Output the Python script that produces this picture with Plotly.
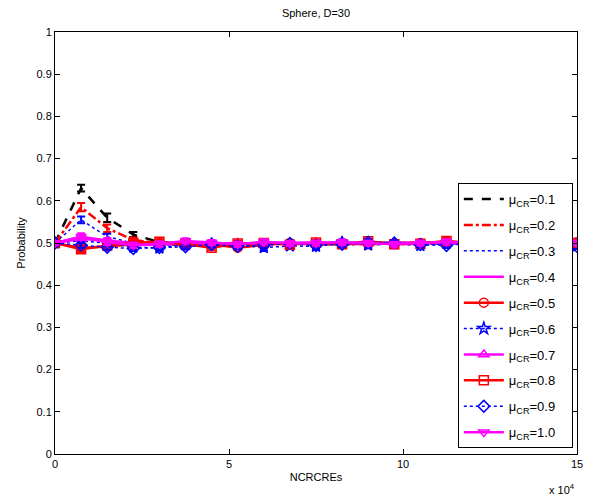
import plotly.graph_objects as go

x_vals = [i * 7500 for i in range(21)]

labels = ["0.1", "0.2", "0.3", "0.4", "0.5", "0.6", "0.7", "0.8", "0.9", "1.0"]

y01 = [0.500, 0.630, 0.560, 0.520, 0.502, 0.497, 0.500, 0.496, 0.500, 0.499, 0.500, 0.497, 0.500, 0.501, 0.499, 0.500, 0.500, 0.500, 0.500, 0.500, 0.498]
y02 = [0.500, 0.585, 0.535, 0.507, 0.500, 0.495, 0.498, 0.497, 0.499, 0.500, 0.498, 0.500, 0.500, 0.499, 0.500, 0.501, 0.500, 0.500, 0.500, 0.500, 0.502]
y03 = [0.500, 0.555, 0.515, 0.500, 0.497, 0.493, 0.499, 0.495, 0.500, 0.497, 0.499, 0.494, 0.499, 0.500, 0.498, 0.497, 0.500, 0.500, 0.500, 0.500, 0.495]
y04 = [0.500, 0.515, 0.506, 0.500, 0.499, 0.502, 0.500, 0.498, 0.501, 0.500, 0.500, 0.502, 0.499, 0.500, 0.501, 0.500, 0.500, 0.500, 0.500, 0.500, 0.500]
y05 = [0.500, 0.488, 0.492, 0.497, 0.500, 0.494, 0.497, 0.489, 0.495, 0.500, 0.496, 0.498, 0.497, 0.499, 0.500, 0.503, 0.500, 0.500, 0.500, 0.500, 0.502]
y06 = [0.500, 0.505, 0.500, 0.490, 0.488, 0.497, 0.498, 0.496, 0.489, 0.493, 0.492, 0.502, 0.495, 0.498, 0.494, 0.500, 0.500, 0.500, 0.500, 0.500, 0.493]
y07 = [0.500, 0.510, 0.505, 0.495, 0.496, 0.500, 0.499, 0.500, 0.497, 0.500, 0.501, 0.498, 0.500, 0.500, 0.499, 0.500, 0.500, 0.500, 0.500, 0.500, 0.500]
y08 = [0.500, 0.485, 0.494, 0.500, 0.503, 0.497, 0.489, 0.499, 0.500, 0.496, 0.501, 0.497, 0.504, 0.497, 0.498, 0.505, 0.500, 0.500, 0.500, 0.500, 0.500]
y09 = [0.500, 0.495, 0.490, 0.487, 0.489, 0.491, 0.496, 0.492, 0.495, 0.499, 0.494, 0.497, 0.502, 0.500, 0.496, 0.494, 0.500, 0.500, 0.500, 0.500, 0.492]
y10 = [0.500, 0.515, 0.502, 0.495, 0.498, 0.505, 0.501, 0.497, 0.503, 0.499, 0.500, 0.502, 0.500, 0.497, 0.500, 0.503, 0.500, 0.500, 0.500, 0.500, 0.500]

e01 = [0.003, 0.008, 0.010, 0.006, 0.004, 0.004, 0.004, 0.004, 0.004, 0.004, 0.004, 0.004, 0.004, 0.004, 0.004, 0.004, 0.004, 0.004, 0.004, 0.004, 0.004]
e02 = [0.003, 0.010, 0.009, 0.006, 0.004, 0.004, 0.004, 0.004, 0.004, 0.004, 0.004, 0.004, 0.004, 0.004, 0.004, 0.004, 0.004, 0.004, 0.004, 0.004, 0.004]
e03 = [0.003, 0.008, 0.007, 0.005, 0.005, 0.006, 0.005, 0.006, 0.005, 0.005, 0.005, 0.005, 0.005, 0.005, 0.005, 0.005, 0.005, 0.005, 0.005, 0.005, 0.006]
e04 = [0.003, 0.006, 0.005, 0.005, 0.004, 0.004, 0.004, 0.004, 0.004, 0.004, 0.004, 0.004, 0.004, 0.004, 0.004, 0.004, 0.004, 0.004, 0.004, 0.004, 0.004]
e05 = [0.003, 0.006, 0.006, 0.005, 0.005, 0.005, 0.005, 0.005, 0.005, 0.005, 0.005, 0.005, 0.005, 0.005, 0.005, 0.005, 0.005, 0.005, 0.005, 0.005, 0.005]
e06 = [0.003, 0.006, 0.006, 0.006, 0.006, 0.006, 0.006, 0.006, 0.006, 0.006, 0.006, 0.006, 0.006, 0.006, 0.006, 0.006, 0.006, 0.006, 0.006, 0.006, 0.006]
e07 = [0.003, 0.006, 0.006, 0.005, 0.005, 0.005, 0.005, 0.005, 0.005, 0.005, 0.005, 0.005, 0.005, 0.005, 0.005, 0.005, 0.005, 0.005, 0.005, 0.005, 0.005]
e08 = [0.003, 0.007, 0.006, 0.006, 0.006, 0.006, 0.006, 0.006, 0.006, 0.006, 0.006, 0.006, 0.006, 0.006, 0.006, 0.006, 0.006, 0.006, 0.006, 0.006, 0.006]
e09 = [0.003, 0.006, 0.006, 0.006, 0.006, 0.006, 0.006, 0.006, 0.006, 0.006, 0.006, 0.006, 0.006, 0.006, 0.006, 0.006, 0.006, 0.006, 0.006, 0.006, 0.006]
e10 = [0.003, 0.008, 0.007, 0.006, 0.006, 0.006, 0.006, 0.006, 0.006, 0.006, 0.006, 0.006, 0.006, 0.006, 0.006, 0.006, 0.006, 0.006, 0.006, 0.006, 0.006]

series_y = [y01, y02, y03, y04, y05, y06, y07, y08, y09, y10]
series_e = [e01, e02, e03, e04, e05, e06, e07, e08, e09, e10]

colors = ["black", "red", "blue", "magenta", "red", "blue", "magenta", "red", "blue", "magenta"]
dashes = ["dash", "dashdot", "dot", "solid", "solid", "dot", "solid", "solid", "dot", "solid"]
symbols = [None, None, None, None, "circle-open", "star-open", "triangle-up-open", "square-open", "diamond-open", "triangle-down-open"]

fig = go.Figure()
for lab, ys, es, c, d, s in zip(labels, series_y, series_e, colors, dashes, symbols):
    mode = "lines+markers" if s else "lines"
    marker = dict(symbol=s, size=9, color=c, line=dict(width=1.5, color=c)) if s else None
    fig.add_trace(go.Scatter(
        x=x_vals, y=ys, mode=mode,
        name="μ<sub>CR</sub>=" + lab + "\u00a0\u00a0\u00a0",
        legendgroup="g" + lab,
        line=dict(color=c, dash=d, width=2.5 if d != "dot" else 1.5),
        marker=marker,
        error_y=dict(type="data", array=es, visible=True, color=c, thickness=2, width=4),
    ))

axis_common = dict(showline=True, linecolor="black", linewidth=1, mirror="ticks",
                   ticks="inside", ticklen=5, tickcolor="black", showgrid=False,
                   zeroline=False, tickfont=dict(family="Liberation Sans, Arial", size=11, color="black"))

fig.update_layout(
    width=595, height=497,
    margin=dict(l=55, r=18, t=32, b=43),
    paper_bgcolor="white", plot_bgcolor="white",
    title=dict(text="Sphere, D=30", x=316/595, xanchor="center", y=1-13/497, yanchor="middle",
               font=dict(family="Liberation Sans, Arial", size=11, color="black")),
    xaxis=dict(range=[0, 150000], tickvals=[0, 50000, 100000, 150000], ticktext=["0", "5", "10", "15"],
               title=dict(text="NCRCREs", standoff=4, font=dict(family="Liberation Sans, Arial", size=11, color="black")),
               **axis_common),
    yaxis=dict(range=[0, 1], tickvals=[i / 10 for i in range(11)],
               ticktext=["0", "0.1", "0.2", "0.3", "0.4", "0.5", "0.6", "0.7", "0.8", "0.9", "1"],
               title=dict(text="Probability", standoff=8, font=dict(family="Liberation Sans, Arial", size=11, color="black")),
               **axis_common),
    legend=dict(x=0.992, xanchor="right", y=0.014, yanchor="bottom",
                bgcolor="white", bordercolor="black", borderwidth=1,
                font=dict(family="Liberation Sans, Arial", size=13, color="black"),
                tracegroupgap=6, itemwidth=40),
    showlegend=True,
)

fig.add_annotation(text="x 10<sup>4</sup>", xref="paper", yref="paper", x=1.0, xanchor="right",
                   y=-(489 - 454) / 422, yanchor="middle", showarrow=False,
                   font=dict(family="Liberation Sans, Arial", size=11, color="black"))

fig.write_html("out.html")
